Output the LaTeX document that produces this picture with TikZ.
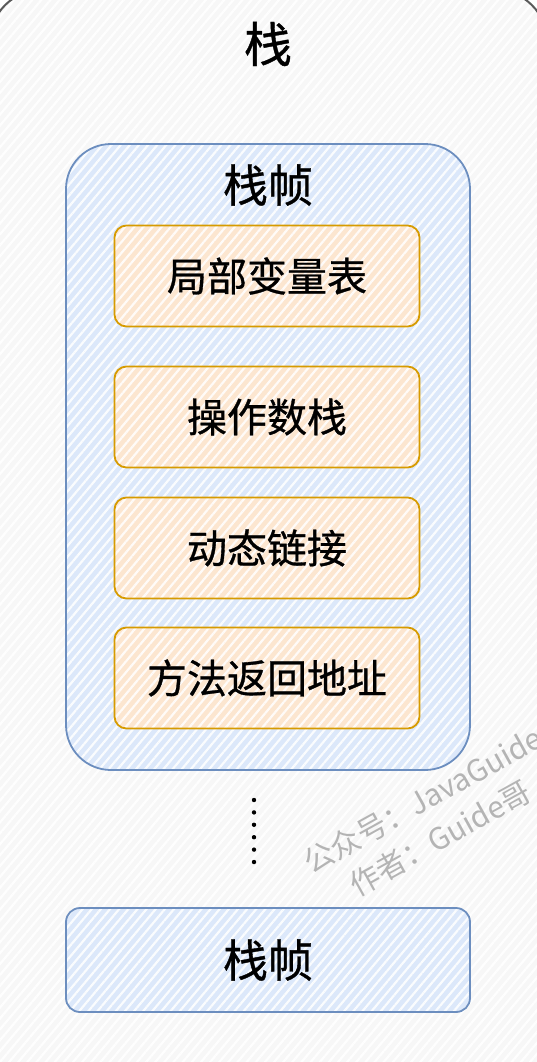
\documentclass[tikz,border=0pt]{standalone}
\usepackage{fontspec}
\setmainfont{Noto Sans CJK SC}
\newfontfamily\boxfont{Noto Sans CJK SC}[FakeBold=0.8]
\usetikzlibrary{patterns.meta}

\definecolor{outline}{HTML}{5A5A5A}
\definecolor{bgfill}{HTML}{F7F7F7}
\definecolor{frameblue}{HTML}{6C8EBF}
\definecolor{fillblue}{HTML}{DCE8FA}
\definecolor{lineorange}{HTML}{D79B00}
\definecolor{fillorange}{HTML}{FCE6D0}
\definecolor{markgray}{HTML}{B4B4B4}

\tikzset{
  hatch/.style={preaction={fill=#1},
    pattern={Lines[angle=50,distance=7pt,line width=2.2pt]},pattern color=white!85!#1},
  framebox/.style={draw=frameblue,line width=1.8pt,hatch=fillblue},
  varbox/.style={draw=lineorange,line width=1.8pt,hatch=fillorange,rounded corners=12pt,
    minimum width=305pt,minimum height=101pt,inner sep=0pt,
    font=\boxfont\fontsize{40}{40}\selectfont},
  bigtext/.style={font=\boxfont\fontsize{#1}{#1}\selectfont},
  watermark/.style={rotate=29,text=markgray,font=\fontsize{30}{30}\selectfont}
}

\begin{document}
\begin{tikzpicture}[x=1pt,y=-1pt]
  \useasboundingbox (0,0) rectangle (537,1062);
  \clip (0,0) rectangle (537,1062);
  % outer stack
  \draw[outline,line width=2pt,hatch=bgfill,rounded corners=55pt] (-11,-11) rectangle (548,1120);
  \node[bigtext=48] (stack) at (268,44) {栈};

  % current frame
  \draw[framebox,rounded corners=45pt] (66,144) rectangle (470,770);
  \node[bigtext=45] (frame) at (268,185) {栈帧};
  \foreach \name/\y/\txt in {locals/276/局部变量表,operands/417/操作数栈,
                              dynlink/548/动态链接,retaddr/678/方法返回地址}
    \node[varbox] (\name) at (267,\y) {\txt};

  % more frames
  \foreach \i in {0,...,5}
    \fill (254,800+12.4*\i) circle (2.2);
  \node[framebox,rounded corners=14pt,minimum width=404pt,minimum height=104pt,
        bigtext=45] (lastframe) at (268,960) {栈帧};

  \node[watermark] (mark1) at (423,800) {公众号：JavaGuide};
  \node[watermark] (mark2) at (440,838) {作者：Guide哥};
\end{tikzpicture}
\end{document}
